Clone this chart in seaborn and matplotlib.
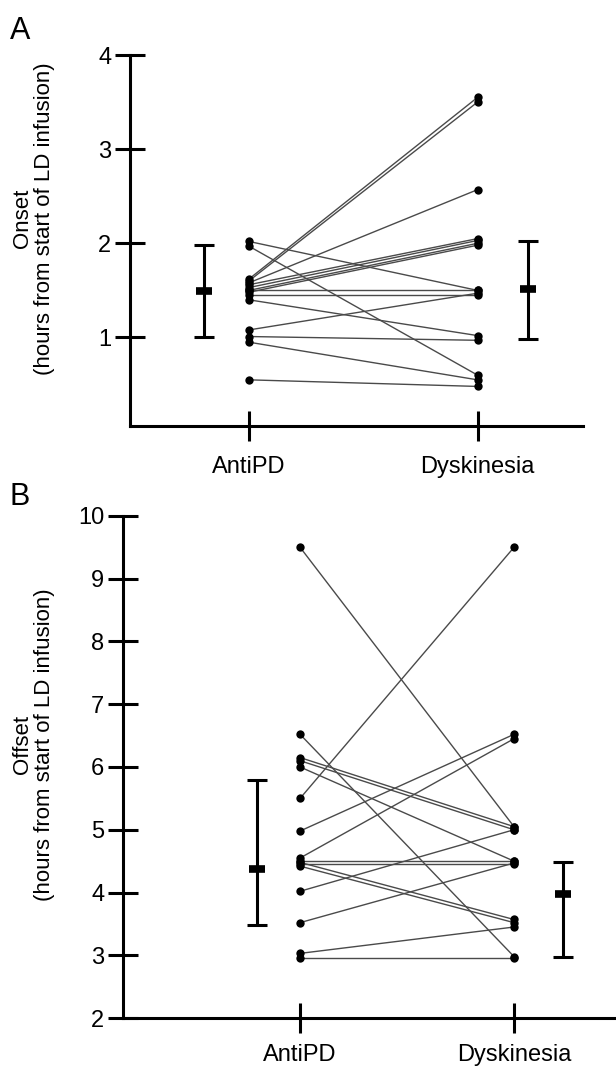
#!/usr/bin/env python3
"""Paired onset / offset plot (AntiPD vs Dyskinesia)"""
import numpy as np
import seaborn as sns
from pandas import DataFrame
from matplotlib import pyplot as plt

# categories
conditions = ["AntiPD", "Dyskinesia"]

# panel A: onset, one entry per patient (paired by index)
onset_antipd = [1.62, 1.60, 1.58, 1.56, 1.53, 1.50, 1.48, 1.50,
                1.45, 1.40, 2.02, 1.97, 1.08, 1.01, 0.95, 0.55]
onset_dysk = [3.55, 3.50, 2.57, 2.05, 2.03, 2.00, 1.98, 1.50,
              1.45, 1.02, 1.50, 0.60, 1.47, 0.97, 0.55, 0.48]
onset_center = [1.49, 1.51]
onset_low = [1.01, 0.98]
onset_high = [1.98, 2.02]

# panel B: offset
offset_antipd = [9.50, 5.50, 6.52, 6.15, 6.10, 6.00, 4.98, 4.55,
                 4.50, 4.45, 4.48, 4.42, 4.02, 3.52, 3.03, 2.95]
offset_dysk = [5.05, 9.50, 2.98, 5.05, 5.00, 4.50, 6.52, 6.45,
               4.50, 4.45, 3.57, 3.52, 5.00, 4.47, 3.45, 2.95]
offset_center = [4.37, 3.97]
offset_low = [3.49, 2.97]
offset_high = [5.79, 4.49]

sns.set_style("ticks", {"axes.edgecolor": "black", "text.color": "black",
                        "xtick.color": "black", "ytick.color": "black",
                        "axes.labelcolor": "black"})
plt.rcParams["font.family"] = ["Liberation Sans", "DejaVu Sans"]
plt.rcParams["axes.linewidth"] = 2.2


def long_frame(first, second):
    """Build a long table for the paired values"""
    n = len(first)
    return DataFrame({
        "subject": list(range(n)) * 2,
        "pos": [0] * n + [1] * n,
        "value": list(first) + list(second),
    })


def paired_panel(ax, first, second, center, low, high, bar_x, label):
    """Draw paired lines, dots and the summary bars"""
    df = long_frame(first, second)
    sns.lineplot(data=df, x="pos", y="value", units="subject",
                 estimator=None, color="#4a4a4a", lw=1.0, ax=ax,
                 legend=False)
    sns.scatterplot(data=df, x="pos", y="value", color="black", s=36,
                    edgecolor="black", linewidth=0, zorder=3, ax=ax,
                    legend=False)
    center = np.array(center)
    yerr = [center - np.array(low), np.array(high) - center]
    ax.errorbar(bar_x, center, yerr=yerr, fmt="none", ecolor="black",
                elinewidth=2.2, capsize=7.5, capthick=2.2)
    ax.plot(bar_x, center, ls="none", marker="_", ms=11, mew=5.5,
            color="black")
    ax.set_xticks([0, 1])
    ax.set_xticklabels(conditions)
    ax.set_xlabel("")
    ax.set_ylabel(label, fontsize=16, linespacing=1.1)
    ax.tick_params(direction="inout", length=21, width=2.2,
                   labelsize=17, pad=3)
    sns.despine(ax=ax)


fig = plt.figure(figsize=(6.16, 10.66), dpi=100)

ax_a = fig.add_axes([0.211, 0.6004, 0.735, 0.348])
paired_panel(ax_a, onset_antipd, onset_dysk, onset_center, onset_low,
             onset_high, [-0.197, 1.22],
             "Onset\n(hours from start of LD infusion)")
ax_a.set_ylim(0.06, 4)
ax_a.set_yticks([1, 2, 3, 4])
ax_a.set_xlim(-0.52, 1.46)
ax_a.tick_params(axis="x", pad=11)
ax_a.yaxis.set_label_coords(-0.165, 0.56)

ax_b = fig.add_axes([0.2, 0.045, 0.80, 0.471])
paired_panel(ax_b, offset_antipd, offset_dysk, offset_center, offset_low,
             offset_high, [-0.2, 1.23],
             "Offset\n(hours from start of LD infusion)")
ax_b.set_ylim(2, 10)
ax_b.set_yticks(range(2, 11))
ax_b.set_xlim(-0.827, 1.477)
ax_b.tick_params(axis="x", pad=8)
ax_b.yaxis.set_label_coords(-0.138, 0.544)

fig.text(0.016, 0.985, "A", fontsize=22, va="top", ha="left")
fig.text(0.016, 0.548, "B", fontsize=22, va="top", ha="left")

print("Saving out.png")
fig.savefig("out.png", dpi=100)
